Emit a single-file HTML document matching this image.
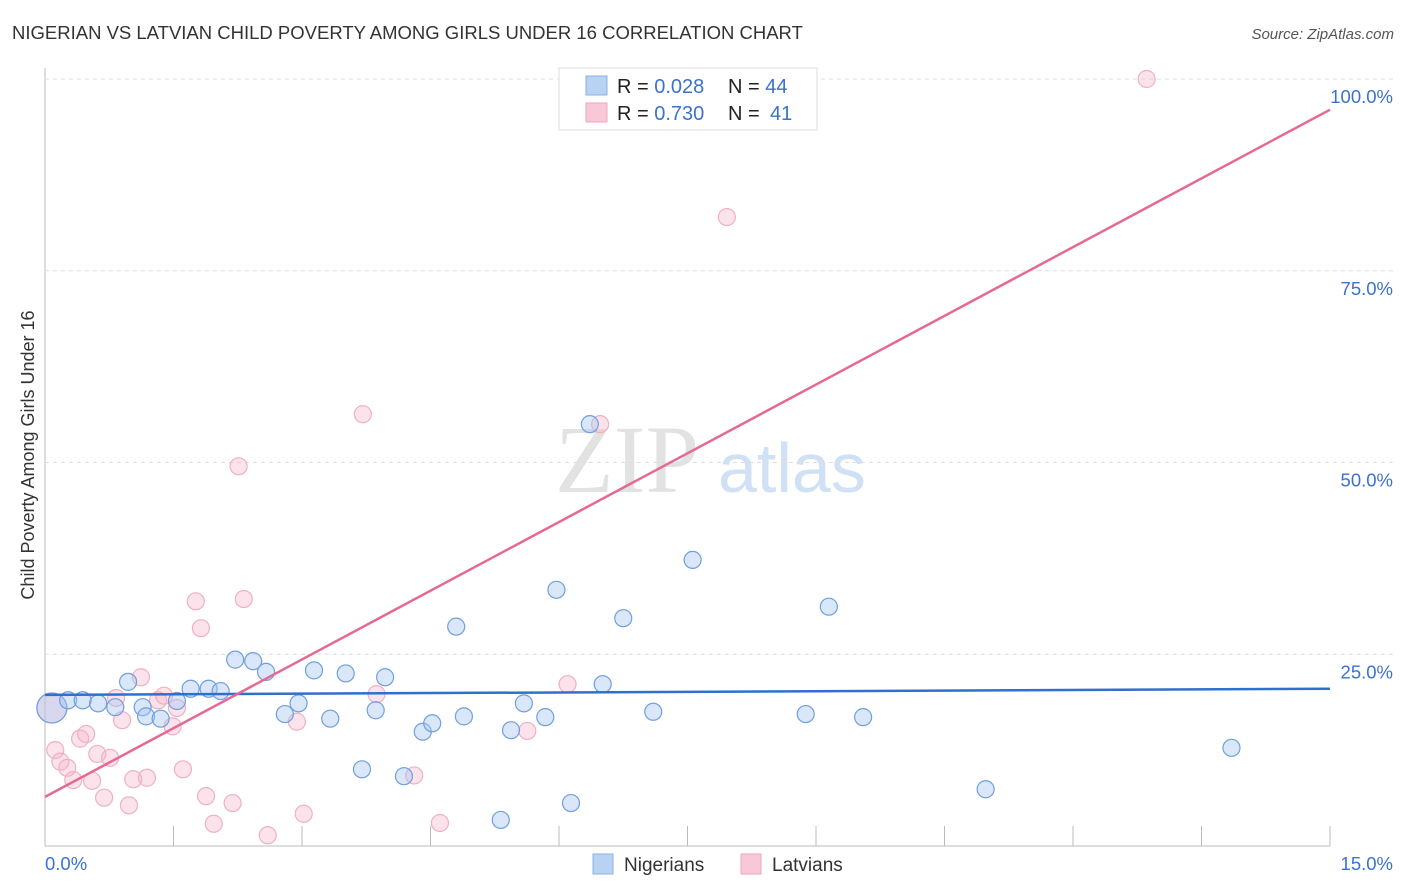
<!DOCTYPE html>
<html><head><meta charset="utf-8"><style>
body{margin:0;background:#fff;font-family:"Liberation Sans",sans-serif;}
svg{display:block}
</style></head><body>
<svg id="chart" width="1406" height="892">
<text x="12" y="39" font-size="18.5" fill="#333">NIGERIAN VS LATVIAN CHILD POVERTY AMONG GIRLS UNDER 16 CORRELATION CHART</text>
<text x="1394" y="39" font-size="15" fill="#555" font-style="italic" text-anchor="end">Source: ZipAtlas.com</text>
<text x="555" y="492" font-size="96" fill="#e2e2e2" font-family="Liberation Serif">ZIP</text>
<text x="718" y="492" font-size="70" fill="#d0e0f5">atlas</text>
<text transform="translate(34,455) rotate(-90)" font-size="18" fill="#333" text-anchor="middle">Child Poverty Among Girls Under 16</text>
<g id="grid"></g><g id="pts"></g><g id="lines"></g>
<g>
<rect x="559" y="68" width="258" height="62" fill="#fff" stroke="#ddd"/>
<rect x="586" y="76" width="21" height="19" fill="#b8d2f4" stroke="#8ab0e4"/>
<rect x="586" y="103" width="21" height="19" fill="#f9c8d6" stroke="#eea6bd"/>
<text x="617" y="93" font-size="20" fill="#222">R = <tspan fill="#3a72d0">0.028</tspan><tspan x="728">N = </tspan><tspan fill="#3a72d0">44</tspan></text>
<text x="617" y="120" font-size="20" fill="#222">R = <tspan fill="#3a72d0">0.730</tspan><tspan x="728">N = </tspan><tspan fill="#3a72d0" x="770">41</tspan></text>
</g>
<g>
<rect x="593" y="854" width="20" height="20" fill="#b8d2f4" stroke="#8ab0e4"/>
<text x="624" y="871" font-size="19" fill="#333">Nigerians</text>
<rect x="741" y="854" width="20" height="20" fill="#f9c8d6" stroke="#eea6bd"/>
<text x="772" y="871" font-size="19" fill="#333">Latvians</text>
</g>
</svg>
<script>
const yTicks=[25,50,75,100];
const xTickCount=10;
const blueX=[0.08,0.27,0.44,0.62,0.82,0.97,1.14,1.18,1.35,1.54,1.70,1.91,2.05,2.22,2.43,2.58,2.80,2.96,3.14,3.33,3.51,3.70,3.86,3.97,4.19,4.41,4.52,4.80,4.89,5.32,5.44,5.59,5.84,5.97,6.14,6.36,6.51,6.75,7.10,7.56,8.88,9.15,9.55,10.98,13.85];
const blueY=[18.0,19.0,19.0,18.6,18.1,21.4,18.1,16.9,16.6,18.9,20.5,20.5,20.2,24.3,24.1,22.7,17.2,18.6,22.9,16.6,22.5,10.0,17.7,22.0,9.1,14.9,16.0,28.6,16.9,3.4,15.1,18.6,16.8,33.4,5.6,55.0,21.1,29.7,17.5,37.3,17.2,31.2,16.8,7.4,12.8];
const pinkX=[0.08,0.12,0.18,0.26,0.33,0.41,0.48,0.55,0.61,0.69,0.76,0.83,0.90,0.98,1.03,1.12,1.19,1.32,1.39,1.49,1.54,1.61,1.76,1.82,1.88,1.97,2.19,2.26,2.32,2.60,2.94,3.02,3.71,3.87,4.31,4.61,5.63,6.10,6.48,7.96,12.86];
const pinkY=[18.0,12.5,11.0,10.2,8.6,14.0,14.6,8.5,12.0,6.3,11.5,19.3,16.4,5.3,8.7,22.0,8.9,19.0,19.6,15.6,18.0,10.0,31.9,28.4,6.5,2.9,5.6,49.5,32.2,1.4,16.2,4.2,56.3,19.8,9.2,3.0,15.0,21.1,55.0,82.0,100.0];
const blueLine=[19.7,20.5], pinkLine=[6.4,96.0];
const NS='http://www.w3.org/2000/svg';
const X=v=>45+v/15*1285, Y=v=>846-v/100*767;
function mk(t,a,p){const e=document.createElementNS(NS,t);for(const k in a)e.setAttribute(k,a[k]);p.appendChild(e);return e;}
const grid=document.getElementById('grid');
mk('line',{x1:45,y1:68,x2:45,y2:846,stroke:'#bbb'},grid);
mk('line',{x1:45,y1:846,x2:1330,y2:846,stroke:'#bbb'},grid);
yTicks.forEach(t=>{
  const l=mk('line',{x1:45,y1:Y(t),x2:1394,y2:Y(t),stroke:'#ddd','stroke-dasharray':'4,4'},grid);
  
  
  const tx=mk('text',{x:1393,y:Y(t)+24,'font-size':18.5,fill:'#3a72d0','text-anchor':'end'},grid);
  tx.textContent=t.toFixed(1)+'%';
  
  
});
for(let i=1;i<=xTickCount;i++){const x=45+i*128.5;mk('line',{x1:x,y1:826,x2:x,y2:846,stroke:'#bbb'},grid);}
const xl=mk('text',{x:45,y:870,'font-size':18.5,fill:'#3a72d0'},grid);xl.textContent='0.0%';


const xr=mk('text',{x:1393,y:870,'font-size':18.5,fill:'#3a72d0','text-anchor':'end'},grid);xr.textContent='15.0%';


const pts=document.getElementById('pts');
pinkX.forEach((v,i)=>{const c=mk('circle',{cx:X(v),cy:Y(pinkY[i]),r:i==0?15:8.5,fill:'rgba(248,182,202,0.38)',stroke:'#efb0c4','stroke-width':1.2},pts);
  
  });
blueX.forEach((v,i)=>{const c=mk('circle',{cx:X(v),cy:Y(blueY[i]),r:i==0?15:8.5,fill:'rgba(164,198,240,0.42)',stroke:'#6f9fe0','stroke-width':1.2},pts);
  
  });
const lines=document.getElementById('lines');
const bl=mk('line',{x1:X(0),y1:Y(blueLine[0]),x2:X(15),y2:Y(blueLine[1]),stroke:'#2f6fd0','stroke-width':2.5},lines);


const pl=mk('line',{x1:X(0),y1:Y(pinkLine[0]),x2:X(15),y2:Y(pinkLine[1]),stroke:'#e56a93','stroke-width':2.5},lines);


</script>
</body></html>
